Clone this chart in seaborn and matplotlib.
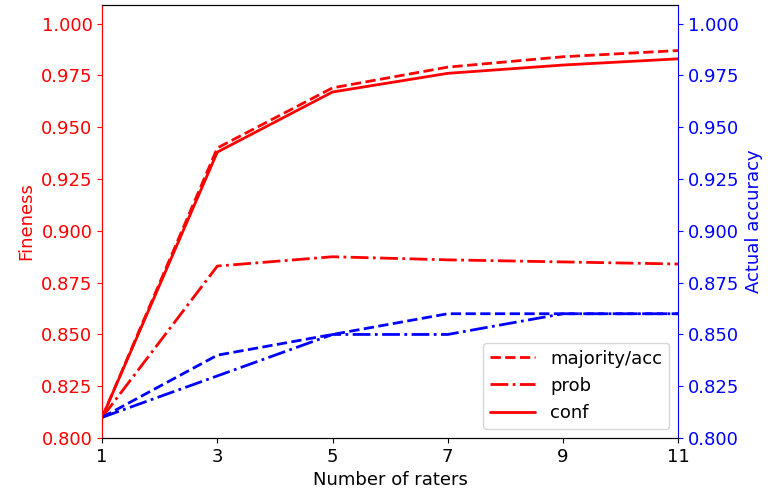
import matplotlib
matplotlib.use("Agg")
import matplotlib.pyplot as plt
import seaborn as sns

sns.set_style("ticks")
plt.rcParams["font.family"] = ["DejaVu Sans"]
plt.rcParams["text.color"] = "black"
plt.rcParams["axes.labelcolor"] = "black"
plt.rcParams["xtick.color"] = "black"
plt.rcParams["axes.edgecolor"] = "black"

# data
raters = [1, 3, 5, 7, 9, 11]
fine_majority = [0.810, 0.940, 0.969, 0.979, 0.984, 0.987]
fine_prob = [0.810, 0.883, 0.8875, 0.886, 0.885, 0.884]
fine_conf = [0.810, 0.938, 0.967, 0.976, 0.980, 0.983]
acc_majority = [0.81, 0.84, 0.85, 0.86, 0.86, 0.86]
acc_prob = [0.81, 0.83, 0.85, 0.85, 0.86, 0.86]

fig = plt.figure(figsize=(7.68, 4.95), dpi=100)
ax = fig.add_axes([0.133, 0.115, 0.75, 0.875])
ax2 = ax.twinx()

red = "#ff0000"
blue = "#0000ff"

sns.lineplot(x=raters, y=fine_majority, ax=ax, color=red, lw=2,
             linestyle="--", label="majority/acc")
sns.lineplot(x=raters, y=fine_prob, ax=ax, color=red, lw=2,
             linestyle="-.", label="prob")
sns.lineplot(x=raters, y=fine_conf, ax=ax, color=red, lw=2,
             linestyle="-", label="conf")

sns.lineplot(x=raters, y=acc_majority, ax=ax2, color=blue, lw=2,
             linestyle="--", legend=False)
sns.lineplot(x=raters, y=acc_prob, ax=ax2, color=blue, lw=2,
             linestyle="-.", legend=False)

ax.set_xlim(1, 11)
ax.set_xticks(raters)
ax.set_ylim(0.8, 1.009)
ax2.set_ylim(0.8, 1.009)
ticks = [0.800, 0.825, 0.850, 0.875, 0.900, 0.925, 0.950, 0.975, 1.000]
ax.set_yticks(ticks)
ax2.set_yticks(ticks)
ax.set_yticklabels([f"{t:.3f}" for t in ticks])
ax2.set_yticklabels([f"{t:.3f}" for t in ticks])

ax.set_xlabel("Number of raters", fontsize=13)
ax.set_ylabel("Fineness", color=red, fontsize=13)
ax2.set_ylabel("Actual accuracy", color=blue, fontsize=13)
ax.tick_params(axis="y", colors=red, labelsize=13)
ax2.tick_params(axis="y", colors=blue, labelsize=13)
ax.tick_params(axis="x", labelsize=13)
ax.spines["left"].set_color(red)
ax2.spines["left"].set_color(red)
ax2.spines["right"].set_color(blue)
ax.spines["right"].set_visible(False)

ax.legend(loc="lower right", fontsize=13, handlelength=2.5)

fig.savefig("out.png", dpi=100)
